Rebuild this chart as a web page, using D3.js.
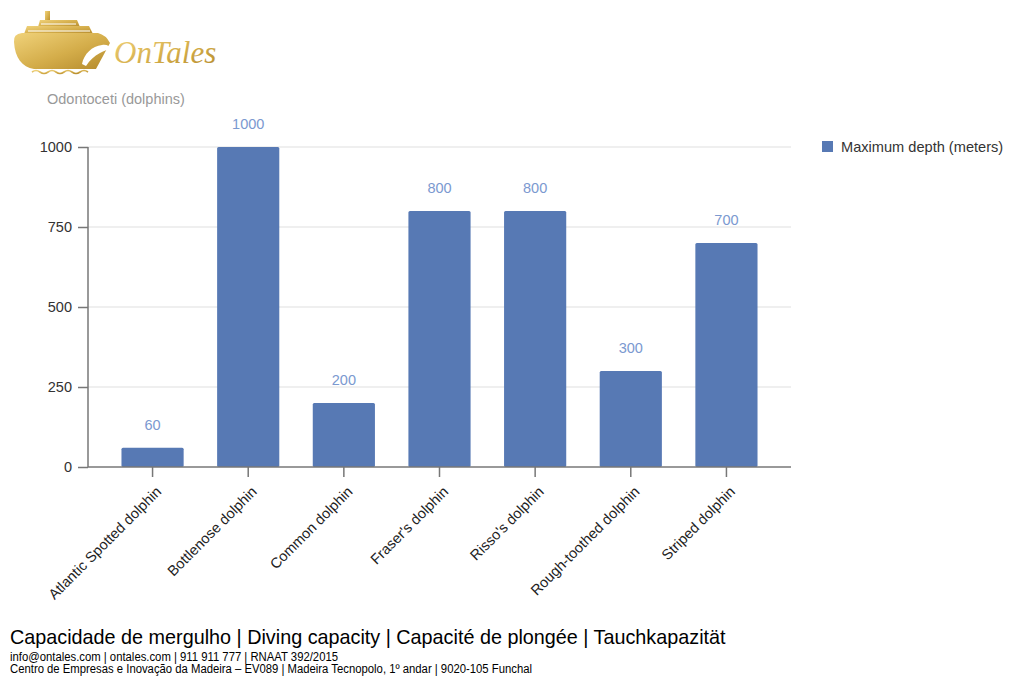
<!DOCTYPE html>
<html>
<head>
<meta charset="utf-8">
<script src="https://cdn.jsdelivr.net/npm/d3@7"></script>
<style>
  body { margin: 0; background: #fff; }
  svg { display: block; font-family: "Liberation Sans", Arial, sans-serif; }
</style>
</head>
<body>
<svg id="chart" width="1024" height="690"></svg>
<script>
const species = ["Atlantic Spotted dolphin", "Bottlenose dolphin", "Common dolphin", "Fraser's dolphin",
                 "Risso's dolphin", "Rough-toothed dolphin", "Striped dolphin"];
const maxDepth = [60, 1000, 200, 800, 800, 300, 700];
const yTicks = [0, 250, 500, 750, 1000];
const seriesName = "Maximum depth (meters)";
const chartTitle = "Odontoceti (dolphins)";
const footerLines = [
    "Capacidade de mergulho | Diving capacity | Capacité de plongée | Tauchkapazität",
    "info@ontales.com | ontales.com | 911 911 777 | RNAAT 392/2015",
    "Centro de Empresas e Inovação da Madeira – EV089 | Madeira Tecnopolo, 1º andar | 9020-105 Funchal"
];

const svg = d3.select("#chart");
const plotLeft = 88, plotRight = 791, plotTop = 147, plotBottom = 467;

const x = d3.scaleBand().domain(species).range([plotLeft, plotRight]).paddingInner(0.35).paddingOuter(0.35);
const y = d3.scaleLinear().domain([0, 1000]).range([plotBottom, plotTop]);

// logo
const defs = svg.append("defs");
const grad = defs.append("linearGradient").attr("id", "gold").attr("x1", 0).attr("y1", 0).attr("x2", 1).attr("y2", 1);
grad.append("stop").attr("offset", "0%").attr("stop-color", "#f0d27a");
grad.append("stop").attr("offset", "55%").attr("stop-color", "#d4ad4a");
grad.append("stop").attr("offset", "100%").attr("stop-color", "#b48a2c");

const logo = svg.append("g").attr("id", "logo");
logo.append("rect").attr("x", 45).attr("y", 11).attr("width", 5).attr("height", 11).attr("fill", "url(#gold)");
logo.append("path").attr("d", "M38,27 L40,20 L77,20 L80,27 Z").attr("fill", "url(#gold)");
logo.append("path").attr("d", "M24,34 L27,26 L89,26 L93,34 Z").attr("fill", "url(#gold)");
logo.append("path")
    .attr("d", "M14,42 Q13,34 22,33 L98,33 Q106,35 110,43 C104,54 100,62 96,69 L34,69 C22,67 15,58 14,42 Z")
    .attr("fill", "url(#gold)");
// window lines
logo.append("path").attr("d", "M41,24 L76,24 M28,31 L90,31").attr("stroke", "#fff").attr("stroke-width", 1.2);
// dolphin
logo.append("path")
    .attr("d", "M82,64 C84,54 92,46 102,45 C106,44 110,46 112,49 C108,49 104,51 100,53 C94,56 90,60 86,66 Z")
    .attr("fill", "#fff");
// waves
logo.append("path")
    .attr("d", "M32,72 q4,-3 8,0 t8,0 t8,0 t8,0 t8,0 t8,0 t8,0")
    .attr("fill", "none").attr("stroke", "url(#gold)").attr("stroke-width", 1.6);
logo.append("text").attr("x", 114).attr("y", 63)
    .attr("font-family", "'Liberation Serif', 'DejaVu Serif', serif")
    .attr("font-style", "italic").attr("font-size", 31)
    .attr("fill", "url(#gold)").text("OnTales");

// title
svg.append("text").attr("x", 47).attr("y", 104).attr("font-size", 14.5).attr("fill", "#999").text(chartTitle);

// gridlines
svg.append("g").selectAll("line").data(yTicks.filter(d => d > 0)).join("line")
    .attr("x1", plotLeft).attr("x2", plotRight)
    .attr("y1", d => y(d)).attr("y2", d => y(d))
    .attr("stroke", "#e0e0e0").attr("stroke-width", 1.2);

// bars
svg.append("g").selectAll("rect").data(maxDepth).join("rect")
    .attr("x", (d, i) => x(species[i]))
    .attr("y", d => y(d))
    .attr("width", x.bandwidth())
    .attr("height", d => y(0) - y(d))
    .attr("rx", 1.5)
    .attr("fill", "#5779b4");

// value labels
svg.append("g").selectAll("text").data(maxDepth).join("text")
    .attr("x", (d, i) => x(species[i]) + x.bandwidth() / 2)
    .attr("y", d => y(d) - 18)
    .attr("text-anchor", "middle")
    .attr("font-size", 14.5)
    .attr("fill", "#7b99d0")
    .text(d => d);

// y axis
const yAxis = svg.append("g").attr("transform", `translate(${plotLeft},0)`)
    .call(d3.axisLeft(y).tickValues(yTicks).tickFormat(d3.format("d")).tickSize(10).tickPadding(6));
yAxis.select(".domain").attr("stroke", "#777").attr("stroke-width", 1.5).attr("d", `M0,${plotTop}V${plotBottom}`);
yAxis.selectAll(".tick line").attr("stroke", "#777").attr("stroke-width", 1.5);
yAxis.selectAll(".tick text").attr("font-size", 14.5).attr("fill", "#333").attr("font-family", "'Liberation Sans', Arial, sans-serif");

// x axis
const xAxis = svg.append("g").attr("transform", `translate(0,${plotBottom})`)
    .call(d3.axisBottom(x).tickSize(10).tickPadding(4));
xAxis.select(".domain").attr("stroke", "#777").attr("stroke-width", 1.5).attr("d", `M${plotLeft},0H${plotRight}`);
xAxis.selectAll(".tick line").attr("stroke", "#777").attr("stroke-width", 1.5);
xAxis.selectAll(".tick text")
    .attr("font-size", 14.5).attr("fill", "#222")
    .attr("font-family", "'Liberation Sans', Arial, sans-serif")
    .attr("text-anchor", "end")
    .attr("dy", "0.35em")
    .attr("transform", "translate(6,22) rotate(-45)")
    .attr("y", 0).attr("x", 0);

// legend
const legend = svg.append("g").attr("transform", "translate(822,141)");
legend.append("rect").attr("width", 11).attr("height", 11).attr("fill", "#5779b4");
legend.append("text").attr("x", 19).attr("y", 11).attr("font-size", 14.6).attr("fill", "#333").text(seriesName);

// footer
const footer = svg.append("g").attr("font-family", "'Liberation Sans', Arial, sans-serif").attr("fill", "#000");
footer.append("text").attr("x", 10).attr("y", 644).attr("font-size", 19.8).text(footerLines[0]);
footer.append("text").attr("x", 10).attr("y", 661).attr("font-size", 12)
    .attr("textLength", 328).attr("lengthAdjust", "spacingAndGlyphs").text(footerLines[1]);
footer.append("text").attr("x", 10).attr("y", 673).attr("font-size", 12)
    .attr("textLength", 522).attr("lengthAdjust", "spacingAndGlyphs").text(footerLines[2]);
</script>
</body>
</html>
